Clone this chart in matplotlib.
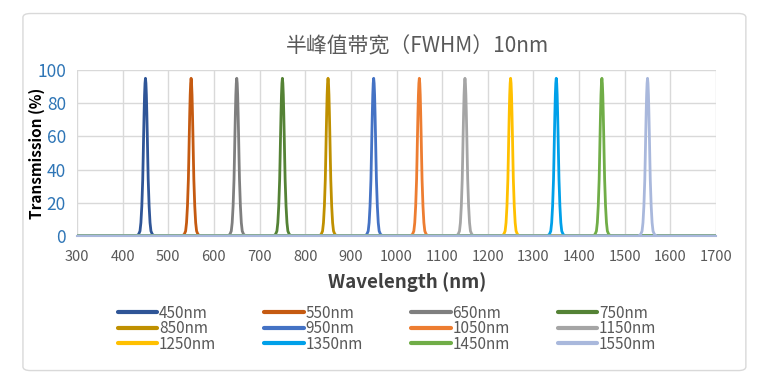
import matplotlib
matplotlib.use('Agg')
import matplotlib.pyplot as plt
from matplotlib.patches import FancyBboxPatch

plt.rcParams['font.family'] = ['Noto Sans CJK SC', 'DejaVu Sans']

# 中心波长
centers = [450, 550, 650, 750, 850, 950, 1050, 1150, 1250, 1350, 1450, 1550]
labels = [str(c) + 'nm' for c in centers]
colors = ['#2F5597', '#C55A11', '#7F7F7F', '#548235', '#BF9000', '#4472C4',
          '#ED7D31', '#A5A5A5', '#FFC000', '#00A0E9', '#70AD47', '#A9B8DC']

# 峰形 (相对中心的偏移, 透过率)
offsets = [-20, -15, -12, -10, -8, -6, -5, -4, -3, -2, -1, 0,
           1, 2, 3, 4, 5, 6, 8, 10, 12, 15, 20]
trans = [0, 1, 3, 8, 18, 34, 47, 61, 74, 85, 92, 95,
         92, 85, 74, 61, 47, 34, 18, 8, 3, 1, 0]
x_min, x_max = 300, 1700

fig = plt.figure(figsize=(7.65, 3.86), dpi=100)
fig.patches.append(FancyBboxPatch((0.03, 0.04), 0.945, 0.925, boxstyle='round,pad=0,rounding_size=0.01',
                                  transform=fig.transFigure, fc='white', ec='#D9D9D9', lw=1, zorder=-10))
ax = fig.add_axes([77 / 765, 1 - 236 / 386, (716 - 77) / 765, (236 - 70) / 386])
ax.patch.set_alpha(0)

handles = []
for c, lab, col in zip(centers, labels, colors):
    xs = [x_min] + [c + o for o in offsets] + [x_max]
    ys = [0] + trans + [0]
    h, = ax.plot(xs, ys, color=col, lw=2, label=lab, solid_capstyle='round')
    handles.append(h)

ax.set_xlim(x_min, x_max)
ax.set_ylim(0, 100)
ax.set_xticks(range(300, 1701, 100))
ax.set_yticks(range(0, 101, 20))
ax.grid(True, color='#D9D9D9', lw=1)
ax.set_axisbelow(True)
for s in ['top', 'right', 'left']:
    ax.spines[s].set_visible(False)
ax.spines['bottom'].set_color('#A9B8DC')
ax.spines['bottom'].set_linewidth(1.5)
ax.tick_params(length=0)
ax.tick_params(axis='y', labelcolor='#2E75B6', labelsize=12.5, pad=8)
ax.tick_params(axis='x', labelcolor='#595959', labelsize=10.5, pad=10)

fig.text(418 / 765, 1 - 46 / 386, '半峰值带宽（FWHM）10nm', fontsize=15, color='#595959',
         ha='center', va='center')
ax.set_xlabel('Wavelength (nm)', fontsize=13.5, fontweight='bold', color='#404040', labelpad=8)
ax.xaxis.set_label_coords((407 - 77) / (716 - 77), -0.22)
ax.xaxis.label.set_va('top')
ax.set_ylabel('Transmission (%)', fontsize=11, fontweight='bold', labelpad=-6)

# 图例按行排列
order = [i * 4 + j for j in range(4) for i in range(3)]
leg = fig.legend([handles[k] for k in order], [labels[k] for k in order], ncol=4,
                 loc='upper left', bbox_to_anchor=(110 / 765, 1 - 297 / 386), frameon=False,
                 fontsize=11, labelcolor='#595959', handlelength=2.6, handletextpad=0.1,
                 columnspacing=3.15, labelspacing=-0.1, borderpad=0)
for ln in leg.get_lines():
    ln.set_linewidth(3)

fig.savefig('out.png', dpi=100)
